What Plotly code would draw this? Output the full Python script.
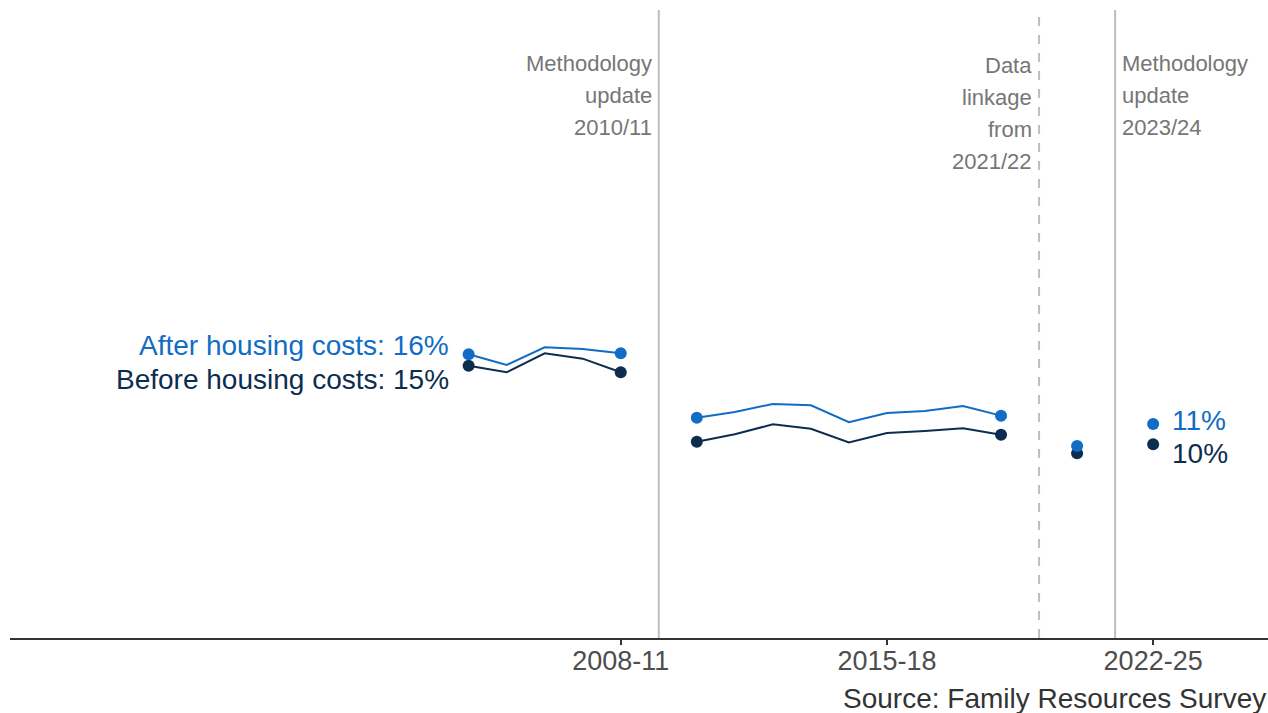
import plotly.graph_objects as go

periods = ["2004-07", "2005-08", "2006-09", "2007-10", "2008-11", "2009-12",
           "2010-13", "2011-14", "2012-15", "2013-16", "2014-17", "2015-18",
           "2016-19", "2017-20", "2018-21", "2019-22", "2020-23", "2021-24", "2022-25"]
ahc = [15.98, 15.27, 16.45, 16.33, 16.05, None, 11.75, 12.13, 12.67, 12.58, 11.45,
       12.07, 12.20, 12.53, 11.89, None, 9.87, None, 11.33]
bhc = [15.22, 14.78, 16.05, 15.69, 14.78, None, 10.15, 10.65, 11.31, 11.02, 10.11,
       10.73, 10.87, 11.05, 10.62, None, 9.38, None, 9.98]
tick_labels = ["2008-11", "2015-18", "2022-25"]

breaks = [
    {"period": "2009-12", "lines": ["Methodology", "update", "2010/11"], "side": "left", "dash": "solid"},
    {"period": "2019-22", "lines": ["Data", "linkage", "from", "2021/22"], "side": "left", "dash": "9px,9px"},
    {"period": "2021-24", "lines": ["Methodology", "update", "2023/24"], "side": "right", "dash": "solid"},
]

AHC_COL = "#116CC4"
BHC_COL = "#0C2D50"
GREY_TXT = "#767676"
LINE_GREY = "#BEBEBE"
FONT = "Liberation Sans, Arial, sans-serif"

W, H = 1268, 713
ML, MR, MT, MB = 10, 0, 10, 75
PH = H - MT - MB


def endpoints(vals):
    xs, ys = [], []
    for i, v in enumerate(vals):
        if v is None:
            continue
        prev_none = i == 0 or vals[i - 1] is None
        next_none = i == len(vals) - 1 or vals[i + 1] is None
        if prev_none or next_none:
            xs.append(periods[i])
            ys.append(v)
    return xs, ys


fig = go.Figure()
for vals, col, name in [(ahc, AHC_COL, "After housing costs"), (bhc, BHC_COL, "Before housing costs")]:
    fig.add_trace(go.Scatter(x=periods, y=vals, mode="lines", line=dict(color=col, width=2),
                             connectgaps=False, showlegend=False, name=name, hoverinfo="skip"))
for vals, col, name in [(bhc, BHC_COL, "Before housing costs"), (ahc, AHC_COL, "After housing costs")]:
    ex, ey = endpoints(vals)
    fig.add_trace(go.Scatter(x=ex, y=ey, mode="markers", marker=dict(color=col, size=12),
                             showlegend=False, name=name))

annotations = []
shapes = []


def py_to_paper(py):
    return 1 - (py - MT) / PH


for b in breaks:
    shapes.append(dict(type="line", xref="x", yref="paper", x0=b["period"], x1=b["period"],
                       y0=0, y1=1, line=dict(color=LINE_GREY, width=2, dash=b["dash"])))
    for k, txt in enumerate(b["lines"]):
        py = 63 + 32 * k + (2 if b["side"] == "left" and len(b["lines"]) == 4 else 0)
        annotations.append(dict(
            x=b["period"], xref="x", y=py_to_paper(py), yref="paper", text=txt,
            showarrow=False, xanchor="right" if b["side"] == "left" else "left",
            xshift=-5 if b["side"] == "left" else 5, yanchor="middle",
            font=dict(family=FONT, size=22, color=GREY_TXT)))

first_i = 0
last_i = len(periods) - 1
annotations += [
    dict(x=periods[first_i], y=ahc[first_i], text=f"After housing costs: {round(ahc[first_i])}%",
         showarrow=False, xanchor="right", xshift=-18, yshift=9, yanchor="middle",
         font=dict(family=FONT, size=28, color=AHC_COL)),
    dict(x=periods[first_i], y=bhc[first_i], text=f"Before housing costs: {round(bhc[first_i])}%",
         showarrow=False, xanchor="right", xshift=-18, yshift=-14, yanchor="middle",
         font=dict(family=FONT, size=28, color=BHC_COL)),
    dict(x=periods[last_i], y=ahc[last_i], text=f"{round(ahc[last_i])}%",
         showarrow=False, xanchor="left", xshift=17, yshift=4, yanchor="middle",
         font=dict(family=FONT, size=28, color=AHC_COL)),
    dict(x=periods[last_i], y=bhc[last_i], text=f"{round(bhc[last_i])}%",
         showarrow=False, xanchor="left", xshift=17, yshift=-9, yanchor="middle",
         font=dict(family=FONT, size=28, color=BHC_COL)),
    dict(x=1, xref="paper", y=py_to_paper(698), yref="paper", text="Source: Family Resources Survey",
         showarrow=False, xanchor="right", yanchor="middle", xshift=0,
         font=dict(family=FONT, size=28, color="#333333")),
]

fig.update_layout(
    width=W, height=H,
    margin=dict(l=ML, r=MR, t=MT, b=MB),
    plot_bgcolor="white", paper_bgcolor="white",
    shapes=shapes, annotations=annotations,
    font=dict(family=FONT),
    xaxis=dict(type="category", categoryorder="array", categoryarray=periods,
               range=[-12.06, 21.02], showgrid=False, zeroline=False,
               showline=True, linecolor="#333333", linewidth=2,
               ticks="outside", ticklen=5, tickwidth=2, tickcolor="#333333",
               ticklabelstandoff=-7,
               tickmode="array", tickvals=tick_labels, ticktext=tick_labels,
               tickfont=dict(family=FONT, size=27, color="#4D4D4D")),
    yaxis=dict(range=[-2.933, 38.933], visible=False, showgrid=False, zeroline=False),
)

fig.write_html(
    "out.html",
    config={"displayModeBar": False},
    post_script="document.body.style.margin='0';document.body.style.overflow='hidden';",
)
